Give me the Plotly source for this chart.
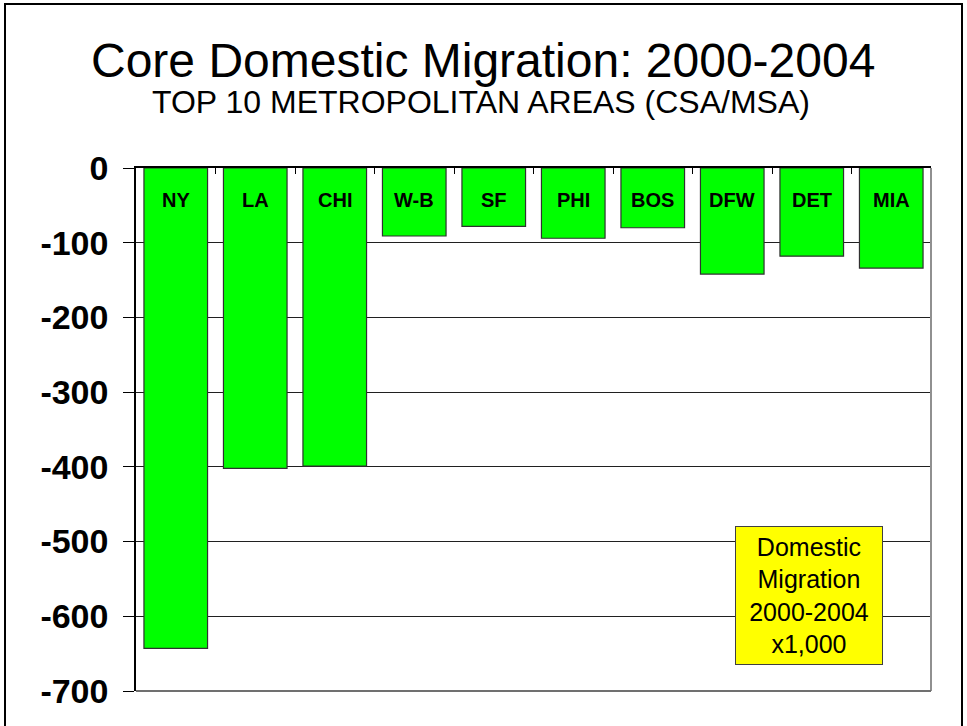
import plotly.graph_objects as go

categories = ["NY", "LA", "CHI", "W-B", "SF", "PHI", "BOS", "DFW", "DET", "MIA"]
migration = [-643, -402, -399, -91, -78, -94, -80, -142, -118, -134]
y_ticks = [0, -100, -200, -300, -400, -500, -600, -700]

title_text = "Core Domestic Migration: 2000-2004"
subtitle_text = "TOP 10 METROPOLITAN AREAS (CSA/MSA)"
note_text = "Domestic<br>Migration<br>2000-2004<br>x1,000"

W, H = 967, 726
L, R, T, B = 136, 36, 168, 35
pw, ph = W - L - R, H - T - B

def px(x):
    return (x - L) / pw

def py(y):
    return (H - B - y) / ph

fig = go.Figure()
fig.add_trace(go.Bar(
    x=categories, y=migration,
    marker=dict(color="#00FF00", line=dict(color="#303030", width=1.2)),
    width=0.8, hoverinfo="x+y",
))

for c in categories:
    fig.add_annotation(x=c, y=0, xref="x", yref="y", text="<b>%s</b>" % c,
                       showarrow=False, yshift=-32,
                       font=dict(family="Liberation Sans, Arial", size=20, color="black"))

fig.add_annotation(x=px(483), y=py(60), xref="paper", yref="paper", text=title_text,
                   showarrow=False, xanchor="center", yanchor="middle",
                   font=dict(family="Liberation Sans, Arial", size=48, color="black"))
fig.add_annotation(x=px(481), y=py(102), xref="paper", yref="paper", text=subtitle_text,
                   showarrow=False, xanchor="center", yanchor="middle",
                   font=dict(family="Liberation Sans, Arial", size=32, color="black"))

fig.add_annotation(x=px(809), y=py(595), xref="paper", yref="paper", text=note_text,
                   showarrow=False, xanchor="center", yanchor="middle",
                   bgcolor="#FFFF00", bordercolor="#404040", borderwidth=1, borderpad=0,
                   width=146, height=137,
                   font=dict(family="Liberation Sans, Arial", size=25, color="black"))

# plot border (right and bottom grey)
fig.add_shape(type="line", xref="paper", yref="paper", x0=1, x1=1, y0=0, y1=1,
              line=dict(color="#909090", width=2))
fig.add_shape(type="line", xref="paper", yref="paper", x0=0, x1=1, y0=0, y1=0,
              line=dict(color="#707070", width=2))
# outer frame
fig.add_shape(type="rect", xref="paper", yref="paper",
              x0=px(5), x1=px(962), y0=py(740), y1=py(4),
              line=dict(color="black", width=2), layer="above")

fig.update_layout(
    width=W, height=H,
    margin=dict(l=L, r=R, t=T, b=B, autoexpand=False),
    paper_bgcolor="white", plot_bgcolor="white",
    showlegend=False,
    bargap=0.2,
    xaxis=dict(side="top", showticklabels=False, showline=True, linecolor="black",
               linewidth=1.5, ticks="inside", ticklen=6, tickcolor="black",
               tickson="boundaries", showgrid=False, fixedrange=True),
    yaxis=dict(range=[-700, 0], tickvals=y_ticks, ticktext=[str(v) for v in y_ticks],
               showgrid=True, gridcolor="#202020", gridwidth=1,
               showline=True, linecolor="black", linewidth=1.5,
               ticks="outside", ticklen=11, tickcolor="black",
               ticklabelstandoff=8, zeroline=False,
               tickfont=dict(family="Liberation Sans, Arial", size=34, color="black",
                             weight="bold"),
               fixedrange=True),
)

fig.write_html("out.html", config={"displayModeBar": False},
               post_script="document.body.style.margin='0';")
